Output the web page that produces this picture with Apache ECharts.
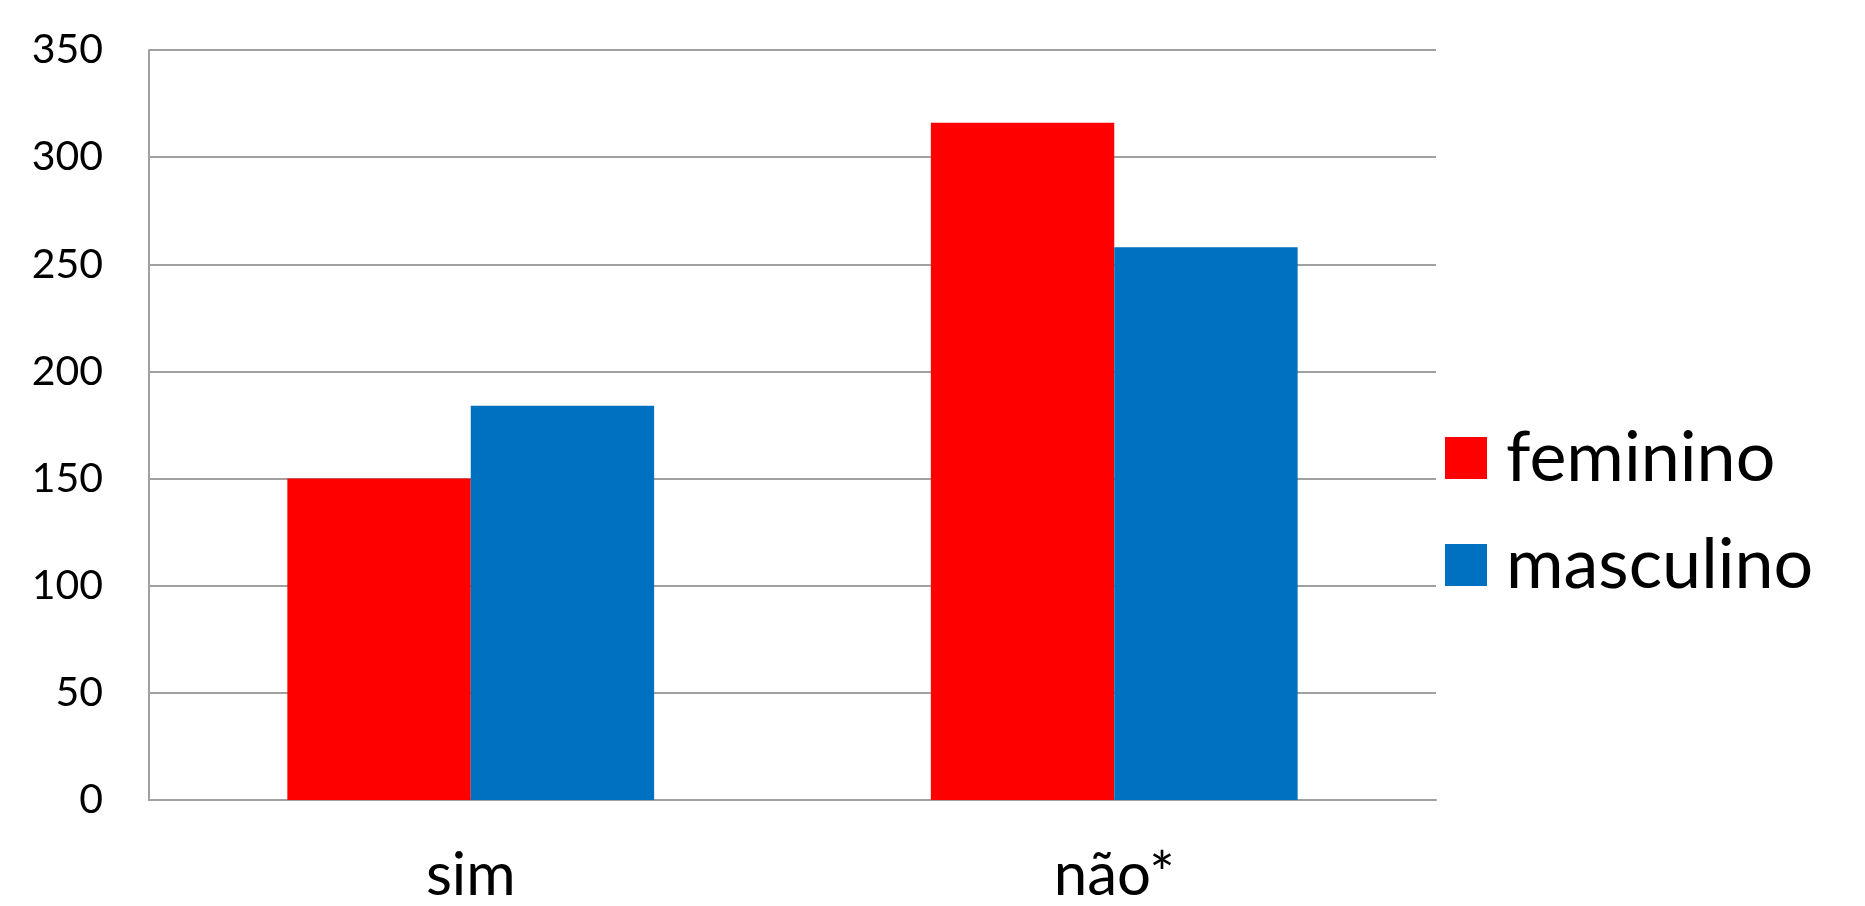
<!DOCTYPE html>
<html>
<head>
<meta charset="utf-8">
<script src="https://cdn.jsdelivr.net/npm/echarts@6/dist/echarts.min.js"></script>
<style>
  html, body { margin: 0; padding: 0; background: #ffffff; }
  #chart { width: 1865px; height: 906px; }
</style>
</head>
<body>
<div id="chart"></div>
<script>
// Respostas por sexo
const categories = ['sim', 'não*'];
const seriesNames = ['feminino', 'masculino'];
const feminino = [150, 316];
const masculino = [184, 258];
const yTicks = { min: 0, max: 350, interval: 50 };

const colors = ['#FF0000', '#0070C0'];
const fontFamily = 'Lato, Carlito, "Liberation Sans", sans-serif';

const chart = echarts.init(document.getElementById('chart'), null, { renderer: 'canvas' });

chart.setOption({
  backgroundColor: '#ffffff',
  animation: false,
  grid: { left: 149, right: 429, top: 50, bottom: 105, containLabel: false },
  legend: {
    orient: 'vertical',
    left: 1445,
    top: 423,
    padding: 0,
    itemWidth: 42,
    itemHeight: 42,
    itemGap: 37,
    icon: 'rect',
    textStyle: { fontFamily, fontSize: 70, color: '#000000', padding: [0, 0, 0, 14] },
    data: seriesNames
  },
  xAxis: {
    type: 'category',
    data: categories,
    axisLine: { show: true, lineStyle: { color: '#A0A0A0', width: 2 } },
    axisTick: { show: false },
    axisLabel: { fontFamily, fontSize: 60, color: '#000000', margin: 46 }
  },
  yAxis: {
    type: 'value',
    min: yTicks.min,
    max: yTicks.max,
    interval: yTicks.interval,
    axisLine: { show: true, lineStyle: { color: '#A0A0A0', width: 2 } },
    axisTick: { show: false },
    splitLine: { show: true, lineStyle: { color: '#A0A0A0', width: 2 } },
    axisLabel: { fontFamily, fontSize: 41, color: '#000000', margin: 46 }
  },
  series: [
    {
      name: seriesNames[0],
      type: 'bar',
      data: feminino,
      itemStyle: { color: colors[0] },
      barGap: '0%',
      barCategoryGap: '43%'
    },
    {
      name: seriesNames[1],
      type: 'bar',
      data: masculino,
      itemStyle: { color: colors[1] },
      barGap: '0%',
      barCategoryGap: '43%'
    }
  ]
});
</script>
</body>
</html>
